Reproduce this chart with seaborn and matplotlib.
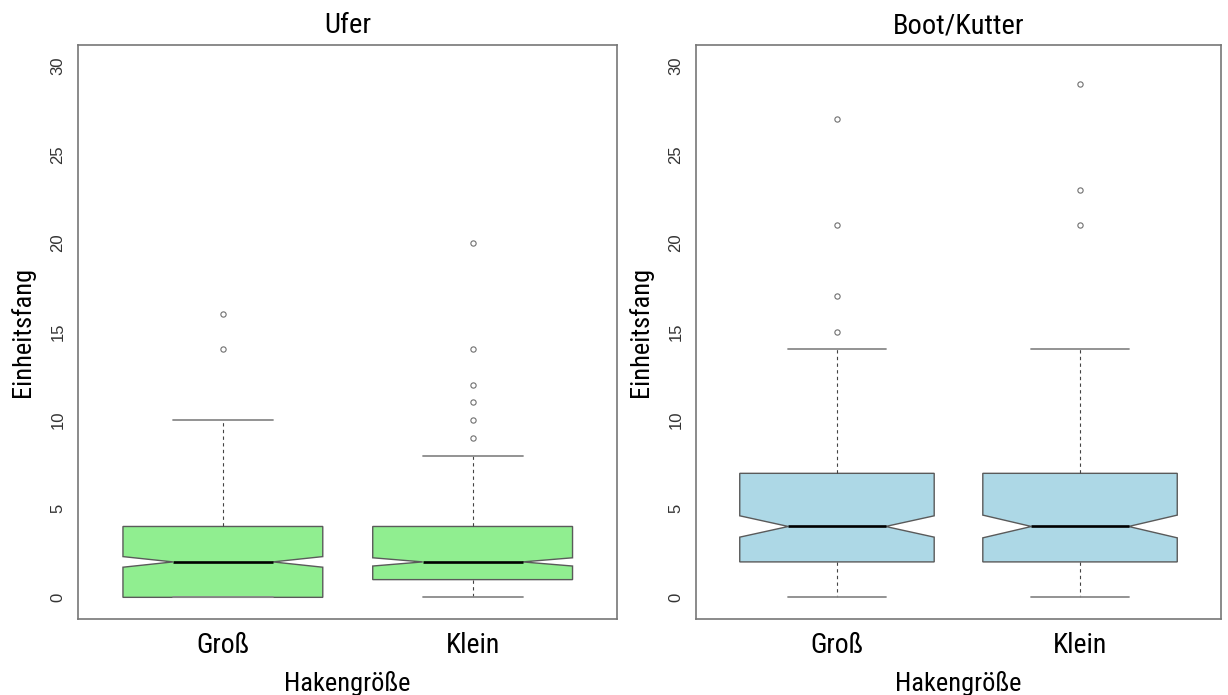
import numpy as np
import pandas as pd
import matplotlib
matplotlib.use("Agg")
import matplotlib.pyplot as plt
import seaborn as sns

# ---------------- data ----------------
hook_sizes = ["Groß", "Klein"]
areas = ["Ufer", "Boot/Kutter"]
area_colors = ["#90EE90", "#ADD8E6"]

# Einheitsfang values and how often each value occurs (estimated from the plot)
ufer_gross_values = [0, 1, 2, 3, 4, 5, 6, 7, 8, 9, 10, 14, 16]
ufer_gross_counts = [120, 70, 60, 45, 50, 30, 22, 15, 12, 8, 6, 1, 1]

ufer_klein_values = [0, 1, 2, 3, 4, 5, 6, 7, 8, 9, 10, 11, 12, 14, 20]
ufer_klein_counts = [55, 95, 85, 55, 45, 32, 18, 12, 7, 1, 1, 1, 1, 1, 1]

boot_gross_values = [0, 1, 2, 3, 4, 5, 6, 7, 8, 9, 10, 11, 12, 13, 14, 15, 17, 21, 27]
boot_gross_counts = [15, 20, 20, 20, 15, 15, 13, 12, 9, 8, 6, 4, 4, 3, 2, 1, 1, 1, 1]

boot_klein_values = [0, 1, 2, 3, 4, 5, 6, 7, 8, 9, 10, 11, 12, 13, 14, 21, 23, 29]
boot_klein_counts = [13, 17, 18, 18, 13, 13, 11, 12, 8, 7, 5, 4, 4, 2, 2, 1, 1, 1]

y_ticks = [0, 5, 10, 15, 20, 25, 30]

groups = [
    ("Ufer", "Groß", ufer_gross_values, ufer_gross_counts),
    ("Ufer", "Klein", ufer_klein_values, ufer_klein_counts),
    ("Boot/Kutter", "Groß", boot_gross_values, boot_gross_counts),
    ("Boot/Kutter", "Klein", boot_klein_values, boot_klein_counts),
]
frames = []
for area, size, vals, cnts in groups:
    v = np.repeat(vals, cnts)
    frames.append(pd.DataFrame({"Bereich": area, "Hakengröße": size, "Einheitsfang": v}))
df = pd.concat(frames, ignore_index=True)

# ---------------- style ----------------
sns.set_style("white")
cond_fonts = ["Roboto Condensed", "Liberation Sans Narrow", "DejaVu Sans Condensed",
              "Noto Sans", "DejaVu Sans"]
plt.rcParams["font.family"] = ["Liberation Sans", "DejaVu Sans"]

W, H = 1228, 695
fig = plt.figure(figsize=(W / 100, H / 100), dpi=100)
ax_rects = [
    [78 / W, (H - 618.6) / H, 539.5 / W, 574 / H],
    [696 / W, (H - 618.6) / H, 525 / W, 574 / H],
]

frame_col = "#777777"
line_col = "#5a5a5a"

for rect, area, color in zip(ax_rects, areas, area_colors):
    ax = fig.add_axes(rect)
    sub = df[df["Bereich"] == area]
    sns.boxplot(
        data=sub, x="Hakengröße", y="Einheitsfang", order=hook_sizes,
        color=color, saturation=1, width=0.8, notch=True,
        linecolor=line_col, linewidth=1.0, ax=ax,
        whiskerprops=dict(color="#444444", linestyle=(0, (3, 3)), linewidth=0.8),
        capprops=dict(color="#8a8a8a", linewidth=1.3),
        medianprops=dict(color="black", linewidth=1.9),
        flierprops=dict(marker="o", markerfacecolor="none", markeredgecolor="#707070",
                        markersize=3.8, markeredgewidth=0.8, linestyle="none"),
    )
    ax.set_xlim(-0.58, 1.58)
    ax.set_ylim(-1.2, 31.2)
    ax.set_yticks(y_ticks)
    ax.set_yticklabels([str(t) for t in y_ticks], rotation=90, va="center",
                       fontsize=12, color="#333333")
    ax.set_xticks(range(len(hook_sizes)))
    ax.set_xticklabels(hook_sizes, family=cond_fonts, fontstretch="condensed",
                       fontsize=20, color="black")
    for sp in ax.spines.values():
        sp.set_visible(True)
        sp.set_color(frame_col)
        sp.set_linewidth(1.2)
    ax.tick_params(axis="both", direction="out", length=5, width=1, color=frame_col)
    ax.tick_params(axis="y", pad=4)
    ax.tick_params(axis="x", pad=5)
    ax.set_title(area, family=cond_fonts, fontstretch="condensed", fontsize=20.5,
                 color="black", pad=8)
    ax.set_xlabel("Hakengröße", family=cond_fonts, fontstretch="condensed",
                  fontsize=19, color="black", labelpad=8)
    ax.set_ylabel("Einheitsfang", family=cond_fonts, fontstretch="condensed",
                  fontsize=19, color="black", labelpad=11)
    ax.grid(False)

fig.savefig("out.png", dpi=100, facecolor="white")
